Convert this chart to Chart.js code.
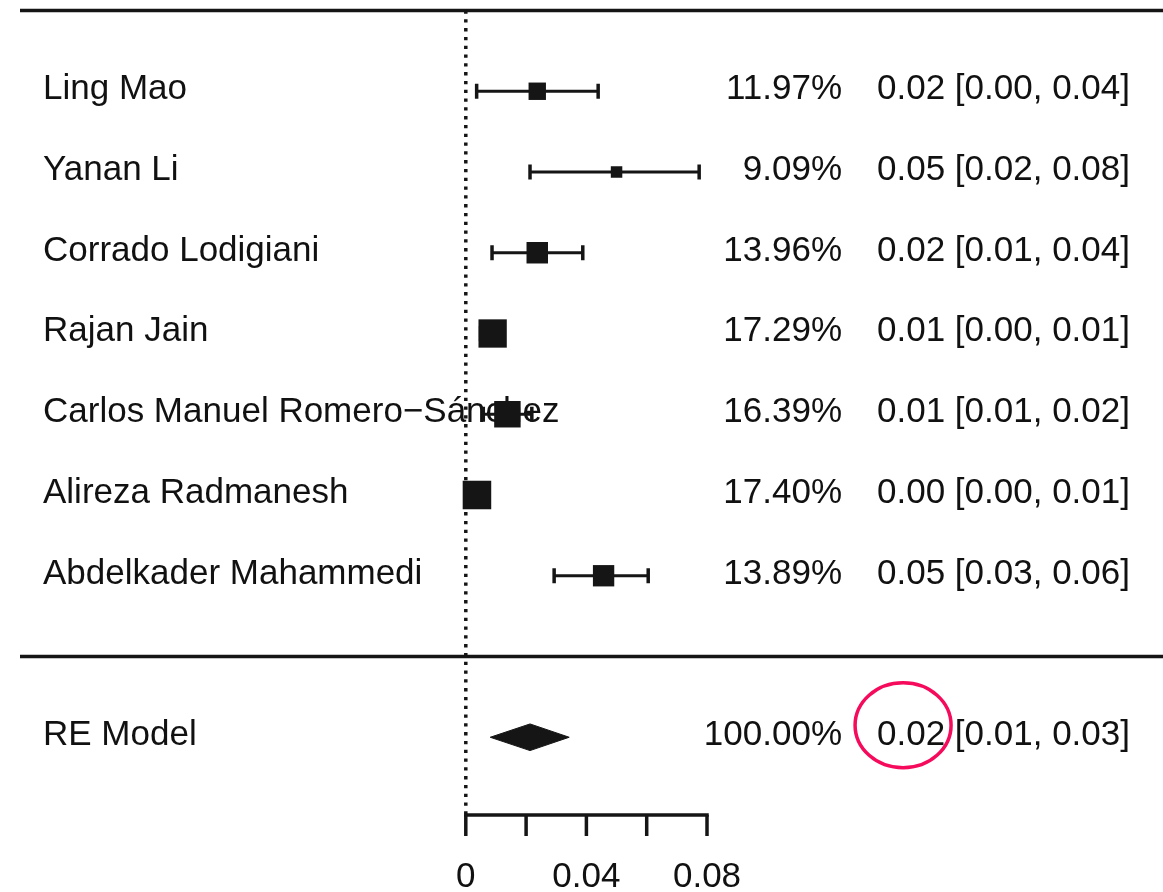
<!DOCTYPE html>
<html>
<head>
<meta charset="utf-8">
<script src="https://cdn.jsdelivr.net/npm/chart.js@4.4.1/dist/chart.umd.min.js"></script>
<style>
  html, body { margin: 0; padding: 0; background: #fff; }
  #wrap { width: 1163px; height: 892px; }
</style>
</head>
<body>
<div id="wrap"><canvas id="c" width="1163" height="892"></canvas></div>
<script>
// ---- data ----
const studies = ["Ling Mao", "Yanan Li", "Corrado Lodigiani", "Rajan Jain",
                 "Carlos Manuel Romero\u2212Sánchez", "Alireza Radmanesh", "Abdelkader Mahammedi"];
const weights = [11.97, 9.09, 13.96, 17.29, 16.39, 17.40, 13.89];
const estimates = [0.0237, 0.0500, 0.0237, 0.0089, 0.0138, 0.0037, 0.0457];
const lowers = [0.0036, 0.0213, 0.0087, 0.0049, 0.0058, 0.0005, 0.0293];
const uppers = [0.0439, 0.0774, 0.0388, 0.0120, 0.0219, 0.0068, 0.0605];
const rows = [7, 6, 5, 4, 3, 2, 1];

const pooledLabel = "RE Model";
const pooledWeight = 100.00;
const pooledEst = 0.0213;
const pooledLower = 0.0081;
const pooledUpper = 0.0343;
const pooledRow = -1;

const tickValues = [0, 0.02, 0.04, 0.06, 0.08];
const tickLabels = ["0", "", "0.04", "", "0.08"];

// ---- styling ----
const INK = '#151515';
const FONT = '35px "Liberation Sans", Arial, Helvetica, sans-serif';
const fmt = v => v.toFixed(2);
const ciText = (e, l, u) => fmt(e) + " [" + fmt(l) + ", " + fmt(u) + "]";
const boxSide = w => 11.5 + (w - 9.09) * 2.05;   // square side in px from weight

const datasets = [];
// studies: squares on top
datasets.push({
  type: 'scatter',
  order: 0,
  data: rows.map((r, i) => ({ x: estimates[i], y: r })),
  pointStyle: 'rect',
  pointRadius: weights.map(w => boxSide(w) / Math.SQRT2),
  pointHoverRadius: weights.map(w => boxSide(w) / Math.SQRT2),
  backgroundColor: INK,
  borderWidth: 0
});
// confidence intervals with end caps
rows.forEach((r, i) => {
  datasets.push({
    type: 'line',
    order: 1,
    data: [{ x: lowers[i], y: r }, { x: uppers[i], y: r }],
    borderColor: INK,
    borderWidth: 3.2,
    pointStyle: 'line',
    rotation: 90,
    pointRadius: 7.5,
    pointBorderWidth: 3.5,
    pointBorderColor: INK,
    fill: false
  });
});
// pooled diamond
const dh = 0.165;
datasets.push({
  type: 'line',
  order: 1,
  data: [
    { x: pooledLower, y: pooledRow },
    { x: pooledEst, y: pooledRow + dh },
    { x: pooledUpper, y: pooledRow },
    { x: pooledEst, y: pooledRow - dh },
    { x: pooledLower, y: pooledRow }
  ],
  borderColor: INK,
  borderWidth: 1,
  backgroundColor: INK,
  pointRadius: 0,
  tension: 0,
  fill: 'shape'
});
// dotted reference line at 0
datasets.push({
  type: 'line',
  order: 2,
  data: [{ x: 0, y: 8 }, { x: 0, y: -2 }],
  borderColor: INK,
  borderWidth: 3.5,
  borderDash: [3.3, 5.5],
  pointRadius: 0,
  fill: false
});

const forestText = {
  id: 'forestText',
  beforeDatasetsDraw(chart) {
    const { ctx, scales: { x, y } } = chart;
    ctx.save();
    // horizontal rules
    ctx.strokeStyle = INK;
    ctx.lineWidth = 3.5;
    [8, 0].forEach(r => {
      const py = y.getPixelForValue(r);
      ctx.beginPath(); ctx.moveTo(20, py); ctx.lineTo(chart.width, py); ctx.stroke();
    });
    // row text
    ctx.font = FONT;
    ctx.fillStyle = '#111';
    ctx.textBaseline = 'alphabetic';
    const drawRow = (label, w, e, l, u, r) => {
      const py = y.getPixelForValue(r) + 8;
      ctx.textAlign = 'left';
      ctx.fillText(label, 43, py);
      ctx.textAlign = 'right';
      ctx.fillText(w.toFixed(2) + "%", 842, py);
      ctx.fillText(ciText(e, l, u), 1130, py);
    };
    rows.forEach((r, i) => drawRow(studies[i], weights[i], estimates[i], lowers[i], uppers[i], r));
    drawRow(pooledLabel, pooledWeight, pooledEst, pooledLower, pooledUpper, pooledRow);

    // x axis
    const ay = y.getPixelForValue(-2) - 3;
    ctx.lineWidth = 3.5;
    ctx.beginPath();
    ctx.moveTo(x.getPixelForValue(tickValues[0]) - 1.75, ay);
    ctx.lineTo(x.getPixelForValue(tickValues[tickValues.length - 1]) + 1.75, ay);
    ctx.stroke();
    ctx.textAlign = 'center';
    tickValues.forEach((v, i) => {
      const px = x.getPixelForValue(v);
      ctx.beginPath(); ctx.moveTo(px, ay); ctx.lineTo(px, ay + 21); ctx.stroke();
      if (tickLabels[i]) ctx.fillText(tickLabels[i], px, ay + 72);
    });
    ctx.restore();
  },
  afterDraw(chart) {
    const { ctx, scales: { y } } = chart;
    // highlight circle around pooled estimate
    ctx.save();
    ctx.font = FONT;
    const full = ciText(pooledEst, pooledLower, pooledUpper);
    const start = 1130 - ctx.measureText(full).width;
    const ew = ctx.measureText(fmt(pooledEst)).width;
    const cx = start + ew / 2 - 8;
    const cy = y.getPixelForValue(pooledRow) - 12;
    ctx.strokeStyle = '#f50a5c';
    ctx.lineWidth = 3.5;
    ctx.beginPath();
    ctx.ellipse(cx, cy, 48, 42.5, 0, 0, Math.PI * 2);
    ctx.stroke();
    ctx.restore();
  }
};

new Chart(document.getElementById('c'), {
  type: 'scatter',
  data: { datasets },
  options: {
    responsive: false,
    devicePixelRatio: 1,
    animation: false,
    layout: { padding: 0, autoPadding: false },
    plugins: { legend: { display: false }, tooltip: { enabled: false } },
    scales: {
      x: { type: 'linear', display: false, bounds: 'data', min: -0.15449, max: 0.23124 },
      y: { type: 'linear', display: false, bounds: 'data', min: -2.9164, max: 8.130 }
    }
  },
  plugins: [forestText]
});
</script>
</body>
</html>
